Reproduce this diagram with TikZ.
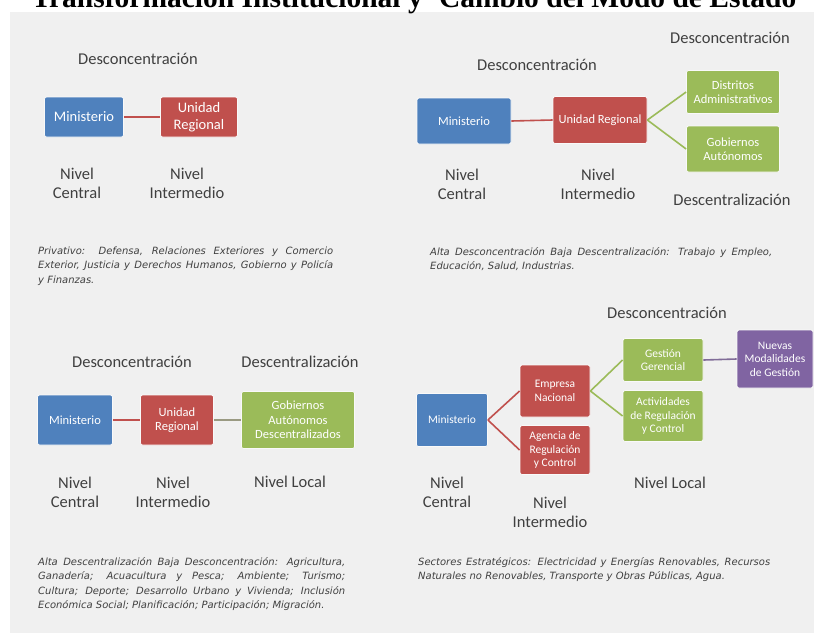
\documentclass[tikz,border=0pt]{standalone}
\usepackage{fontspec}
\setmainfont{Carlito}
\newfontfamily\titlefont{Liberation Serif}
\newfontfamily\notefont{DejaVu Sans}
\usepackage{xcolor}
\usepackage{tikz}

\definecolor{azul}{HTML}{4F81BD}
\definecolor{rojo}{HTML}{C0504D}
\definecolor{verde}{HTML}{9BBB59}
\definecolor{morado}{HTML}{8064A2}
\definecolor{fondo}{HTML}{F0F0F0}
\definecolor{gristexto}{HTML}{404040}
\definecolor{grislinea}{HTML}{9A9A82}

\begin{document}
\begin{tikzpicture}[x=1pt,y=-1pt,
    caja/.style={rounded corners=2pt, text=white, align=center, inner sep=1pt, draw=white!60!fondo, line width=0.8pt, font=\fontsize{12.5}{14.5}\selectfont},
    cajaazul/.style={caja, fill=azul},
    cajaroja/.style={caja, fill=rojo},
    cajaverde/.style={caja, fill=verde},
    cajamorada/.style={caja, fill=morado},
    etiqueta/.style={text=gristexto, align=center, font=\fontsize{16.5}{19}\selectfont},
    nota/.style={anchor=base west, text=gristexto, align=justify, inner sep=0pt, font=\notefont\itshape\fontsize{10}{14.5}\selectfont},
    enlace/.style={line width=1.6pt}]
        \useasboundingbox (0,0) rectangle (814,633);

        % Fondo y titulo
        \fill[fondo] (10,12) rectangle (814,633);
        \node[anchor=base, inner sep=0pt, font=\titlefont\bfseries\fontsize{29.5}{32}\selectfont] (titulo) at (414,7) {Transformación Institucional y\hspace{0.3em} Cambio del Modo de Estado};

        % Cuadro 1: Desconcentracion
        \node[cajaazul, minimum width=79pt, minimum height=40pt, font=\fontsize{14.5}{17}\selectfont] (min1) at (84,117) {Ministerio};
        \node[cajaroja, minimum width=77pt, minimum height=40pt, font=\fontsize{14.5}{17}\selectfont] (reg1) at (199,117) {Unidad\\Regional};
        \draw[enlace, rojo] (min1.east) -- (reg1.west);
        \node[etiqueta] (des1) at (138,59) {Desconcentración};
        \node[etiqueta] (cen1) at (77,183.5) {Nivel\\Central};
        \node[etiqueta] (int1) at (187,183.5) {Nivel\\Intermedio};
        \node[nota, text width=295pt] (nota1) at (38,254) {Privativo: Defensa, Relaciones Exteriores y Comercio\linebreak Exterior, Justicia y Derechos Humanos, Gobierno y Policía\linebreak y Finanzas.};

        % Cuadro 2: Desconcentracion y descentralizacion
        \node[cajaazul, minimum width=94pt, minimum height=46pt] (min2) at (464,121) {Ministerio};
        \node[cajaroja, minimum width=94pt, minimum height=47pt] (reg2) at (600,120) {Unidad Regional};
        \node[cajaverde, minimum width=93pt, minimum height=43pt] (dis2) at (733,92) {Distritos\\Administrativos};
        \node[cajaverde, minimum width=93pt, minimum height=46pt] (gob2) at (733,149) {Gobiernos\\Autónomos};
        \draw[enlace, rojo] (min2.east) -- (reg2.west);
        \draw[enlace, verde] (reg2.east) -- (dis2.west);
        \draw[enlace, verde] (reg2.east) -- (gob2.west);
        \node[etiqueta] (des2) at (537,65) {Desconcentración};
        \node[etiqueta] (desb2) at (730,38) {Desconcentración};
        \node[etiqueta] (cen2) at (462,184) {Nivel\\Central};
        \node[etiqueta] (int2) at (598,184) {Nivel\\Intermedio};
        \node[etiqueta] (dec2) at (732,200) {Descentralización};
        \node[nota, text width=342pt] (nota2) at (430,255) {Alta Desconcentración Baja Descentralización: Trabajo y Empleo,\linebreak Educación, Salud, Industrias.};

        % Cuadro 3: Descentralizacion
        \node[cajaazul, minimum width=75pt, minimum height=50pt] (min3) at (75,420) {Ministerio};
        \node[cajaroja, minimum width=73pt, minimum height=50pt] (reg3) at (177,420) {Unidad\\Regional};
        \node[cajaverde, minimum width=113pt, minimum height=57pt] (gob3) at (298,420) {Gobiernos\\Autónomos\\Descentralizados};
        \draw[enlace, rojo] (min3.east) -- (reg3.west);
        \draw[enlace, grislinea] (reg3.east) -- (gob3.west);
        \node[etiqueta] (des3) at (132,362) {Desconcentración};
        \node[etiqueta] (dec3) at (300,362) {Descentralización};
        \node[etiqueta] (cen3) at (75,492) {Nivel\\Central};
        \node[etiqueta] (int3) at (173,492) {Nivel\\Intermedio};
        \node[etiqueta] (loc3) at (290,482) {Nivel Local};
        \node[nota, text width=307pt] (nota3) at (38,565) {Alta Descentralización Baja Desconcentración: Agricultura,\linebreak Ganadería; Acuacultura y Pesca; Ambiente; Turismo;\linebreak Cultura; Deporte; Desarrollo Urbano y Vivienda; Inclusión\linebreak Económica Social; Planificación; Participación; Migración.};

        % Cuadro 4: Sectores estrategicos
        \node[cajaazul, minimum width=71pt, minimum height=53pt, font=\fontsize{11.5}{13.5}\selectfont] (min4) at (452,420) {Ministerio};
        \node[cajaroja, minimum width=70pt, minimum height=52pt, font=\fontsize{11.5}{13.5}\selectfont] (emp4) at (555,391) {Empresa\\Nacional};
        \node[cajaroja, minimum width=70pt, minimum height=49pt, font=\fontsize{11.5}{13.5}\selectfont] (age4) at (555,450) {Agencia de\\Regulación\\y Control};
        \node[cajaverde, minimum width=80pt, minimum height=43pt, font=\fontsize{11.5}{13.5}\selectfont] (ges4) at (663,360) {Gestión\\Gerencial};
        \node[cajaverde, minimum width=80pt, minimum height=51pt, font=\fontsize{11.5}{13.5}\selectfont] (act4) at (663,416) {Actividades\\de Regulación\\y Control};
        \node[cajamorada, minimum width=76pt, minimum height=58pt, font=\fontsize{11.5}{13.5}\selectfont] (nue4) at (775,359) {Nuevas\\Modalidades\\de Gestión};
        \draw[enlace, rojo] (min4.east) -- (emp4.west);
        \draw[enlace, rojo] (min4.east) -- (age4.west);
        \draw[enlace, verde] (emp4.east) -- (ges4.west);
        \draw[enlace, verde] (emp4.east) -- (act4.west);
        \draw[enlace, morado!70!gray] (ges4.east) -- (nue4.west);
        \node[etiqueta] (des4) at (667,313) {Desconcentración};
        \node[etiqueta] (cen4) at (447,492.5) {Nivel\\Central};
        \node[etiqueta] (int4) at (550,512.5) {Nivel\\Intermedio};
        \node[etiqueta] (loc4) at (670,483) {Nivel Local};
        \node[nota, text width=352pt] (nota4) at (418,565) {Sectores Estratégicos: Electricidad y Energías Renovables, Recursos\linebreak Naturales no Renovables, Transporte y Obras Públicas, Agua.};
    \end{tikzpicture}
\end{document}
